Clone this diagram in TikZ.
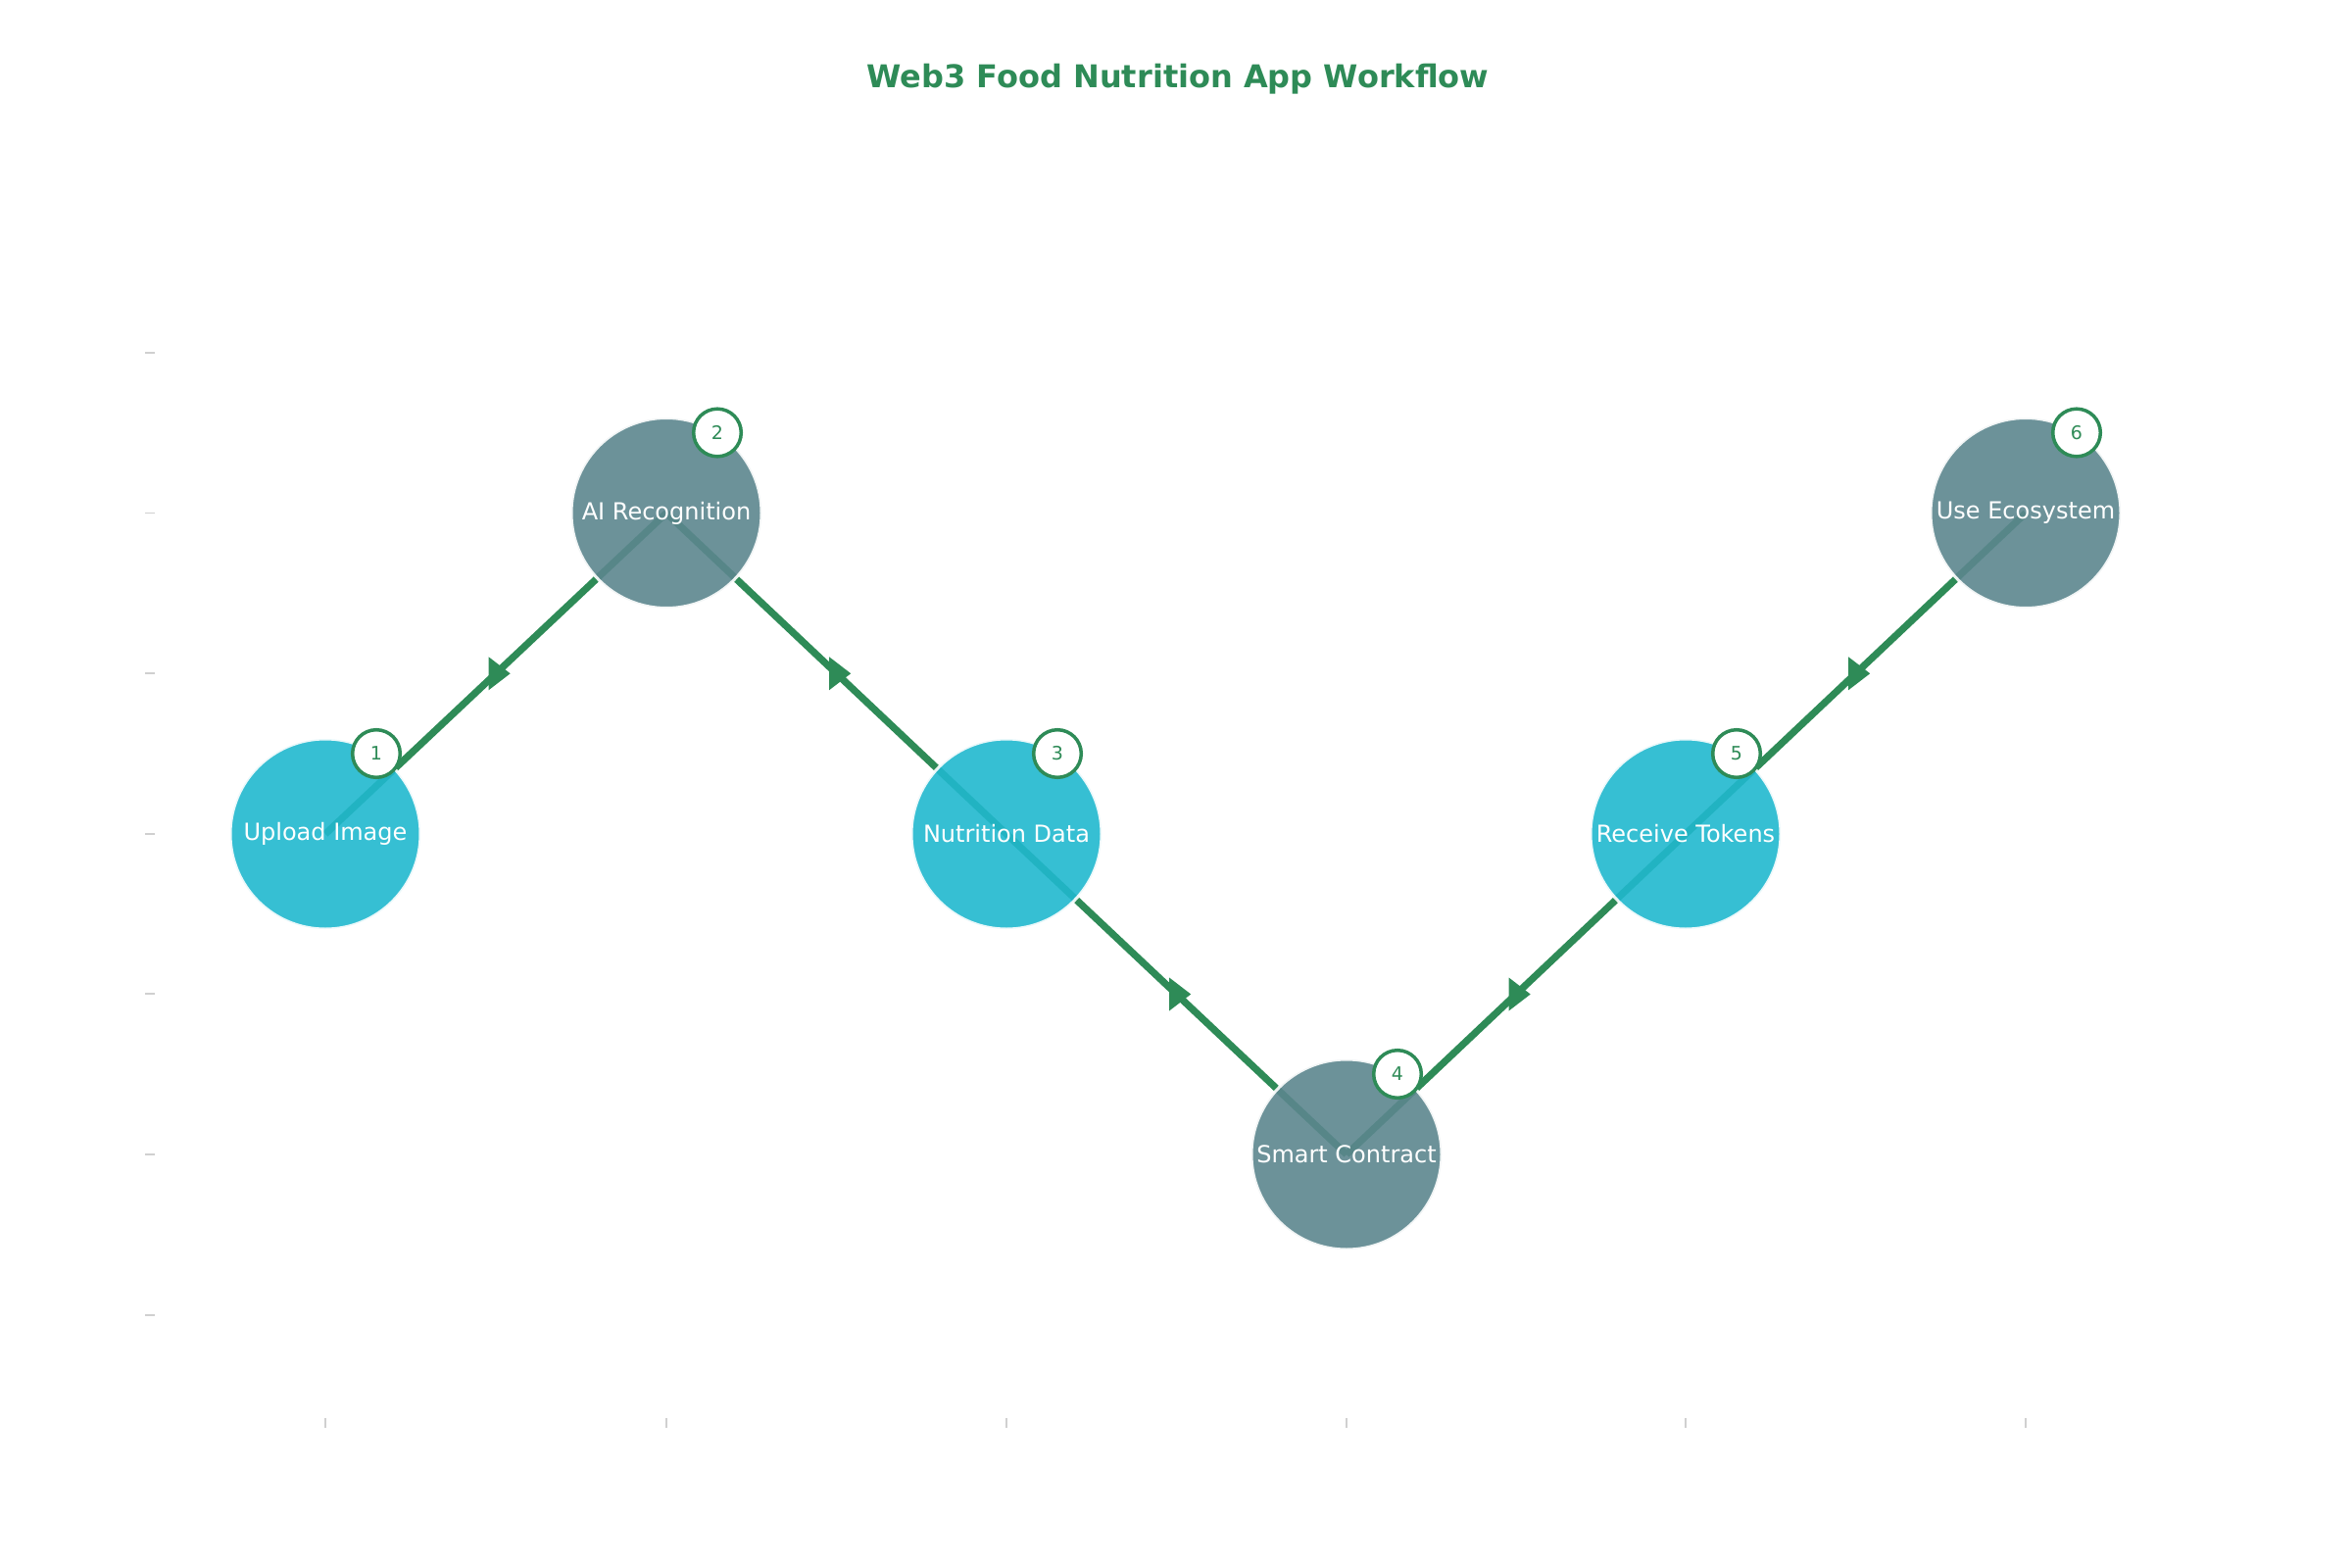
\documentclass[tikz,border=0pt]{standalone}
\usepackage{fontspec}
\setmainfont{DejaVu Sans}
\usetikzlibrary{calc,backgrounds}
\definecolor{flowgreen}{RGB}{46,139,87}
\definecolor{stepcyan}{RGB}{32,184,206}
\definecolor{stepgray}{RGB}{92,134,142}
\definecolor{tickgray}{RGB}{208,208,208}
\begin{document}
\begin{tikzpicture}[x=0.5pt,y=0.5pt,yscale=-1,xscale=1,
    stepnode/.style={circle,inner sep=0pt,minimum size=97pt,draw=white,line width=1.5pt,fill opacity=0.9,draw opacity=0.9},
    cyannode/.style={stepnode,fill=stepcyan},
    graynode/.style={stepnode,fill=stepgray},
    steptext/.style={text=white,inner sep=0pt,font=\fontsize{12}{14}\selectfont},
    badge/.style={circle,inner sep=0pt,minimum size=24.3pt,draw=flowgreen,line width=1.75pt,fill=white,text=flowgreen,font=\fontsize{9.5}{11}\selectfont},
    flowline/.style={draw=flowgreen,line width=3.6pt},
    tickline/.style={draw=tickgray,line width=0.6pt}]
    \useasboundingbox (0,0) rectangle (2400,1600);

    %Straight Lines: axis ticks
    \draw [tickline] (148,360) -- (158,360) ;
    \draw [tickline] (148,523.5) -- (158,523.5) ;
    \draw [tickline] (148,687) -- (158,687) ;
    \draw [tickline] (148,851) -- (158,851) ;
    \draw [tickline] (148,1014) -- (158,1014) ;
    \draw [tickline] (148,1178) -- (158,1178) ;
    \draw [tickline] (148,1342) -- (158,1342) ;
    \draw [tickline] (332,1447) -- (332,1457) ;
    \draw [tickline] (680,1447) -- (680,1457) ;
    \draw [tickline] (1027,1447) -- (1027,1457) ;
    \draw [tickline] (1374,1447) -- (1374,1457) ;
    \draw [tickline] (1720,1447) -- (1720,1457) ;
    \draw [tickline] (2067,1447) -- (2067,1457) ;

    %Shape: Circle
    \node [cyannode,label={[steptext]center:Upload Image}] (upload) at (332,851) {};
    %Shape: Circle
    \node [graynode,label={[steptext]center:AI Recognition}] (airec) at (680,523.5) {};
    %Shape: Circle
    \node [cyannode,label={[steptext]center:Nutrition Data}] (nutrition) at (1027,851) {};
    %Shape: Circle
    \node [graynode,label={[steptext]center:Smart Contract}] (contract) at (1374,1178) {};
    %Shape: Circle
    \node [cyannode,label={[steptext]center:Receive Tokens}] (tokens) at (1720,851) {};
    %Shape: Circle
    \node [graynode,label={[steptext]center:Use Ecosystem}] (ecosystem) at (2067,523.5) {};

    %Straight Lines
    \begin{pgfonlayer}{background}
    \draw [flowline] (upload.center) -- (airec.center) ;
    \draw [flowline] (airec.center) -- (nutrition.center) ;
    \draw [flowline] (nutrition.center) -- (contract.center) ;
    \draw [flowline] (contract.center) -- (tokens.center) ;
    \draw [flowline] (tokens.center) -- (ecosystem.center) ;
    \end{pgfonlayer}

    %Shape: Triangle markers
    \fill [flowgreen] ($(upload)!0.5!(airec)$) +(-7.4,-17) -- +(14.7,0) -- +(-7.4,17) -- cycle ;
    \fill [flowgreen] ($(airec)!0.5!(nutrition)$) +(-7.4,-17) -- +(14.7,0) -- +(-7.4,17) -- cycle ;
    \fill [flowgreen] ($(nutrition)!0.5!(contract)$) +(-7.4,-17) -- +(14.7,0) -- +(-7.4,17) -- cycle ;
    \fill [flowgreen] ($(contract)!0.5!(tokens)$) +(-7.4,-17) -- +(14.7,0) -- +(-7.4,17) -- cycle ;
    \fill [flowgreen] ($(tokens)!0.5!(ecosystem)$) +(-7.4,-17) -- +(14.7,0) -- +(-7.4,17) -- cycle ;

    % Text Node
    \node [badge] (b1) at (384,769) {1};
    % Text Node
    \node [badge] (b2) at (732,441.5) {2};
    % Text Node
    \node [badge] (b3) at (1079,769) {3};
    % Text Node
    \node [badge] (b4) at (1426,1096) {4};
    % Text Node
    \node [badge] (b5) at (1772,769) {5};
    % Text Node
    \node [badge] (b6) at (2119,441.5) {6};

    % Text Node
    \node [anchor=base,inner sep=0pt,text=flowgreen,font=\bfseries\fontsize{16}{19}\selectfont] (title) at (1202,90) {Web3 Food Nutrition App Workflow};
\end{tikzpicture}
\end{document}
